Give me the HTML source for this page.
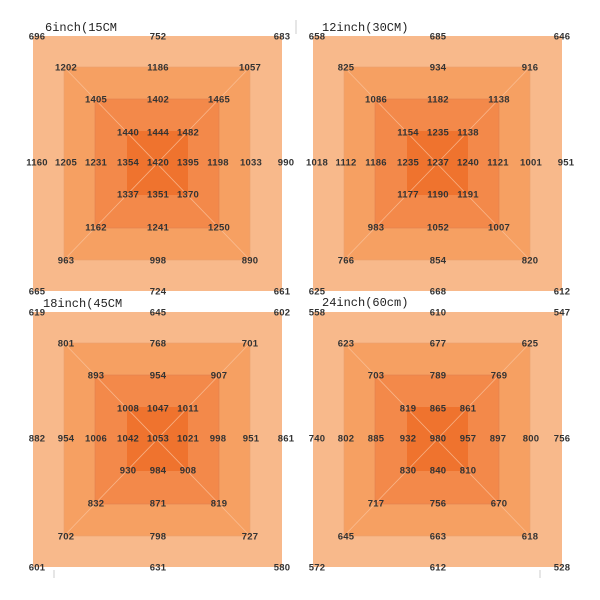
<!DOCTYPE html>
<html><head><meta charset="utf-8"><style>
body{margin:0;background:#fff}
svg{display:block}
text{font-family:"Liberation Sans",sans-serif;font-size:9.5px;fill:#333;text-anchor:middle;dominant-baseline:middle;font-weight:bold;letter-spacing:0.2px}
text.t{font-family:"Liberation Mono",monospace;font-size:12px;text-anchor:start;font-weight:normal;fill:#222;letter-spacing:0}
</style></head><body>
<svg width="600" height="600" viewBox="0 0 600 600" xmlns="http://www.w3.org/2000/svg">
<defs>
<g id="sq">
<rect x="33" y="36" width="249" height="255" fill="#f8b98b"/>
<rect x="64" y="67" width="186" height="193" fill="#f6a062" stroke="#e9a070" stroke-width="0.6"/>
<rect x="95" y="99" width="124" height="129" fill="#f3894a" stroke="#e08050" stroke-width="0.6"/>
<rect x="127" y="131" width="61" height="64" fill="#ef732e"/>
<line x1="64" y1="67" x2="250" y2="260" stroke="#fbc9a6" stroke-width="0.8" opacity="0.7"/>
<line x1="250" y1="67" x2="64" y2="260" stroke="#fbc9a6" stroke-width="0.8" opacity="0.7"/>
</g>
</defs>
<line x1="296" y1="20" x2="296" y2="34" stroke="#ccc"/>
<line x1="54" y1="570" x2="54" y2="578" stroke="#ccc"/>
<line x1="540" y1="570" x2="540" y2="578" stroke="#ccc"/>

<g>
<use href="#sq"/>
<text class="t" x="45" y="28">6inch(15CM</text>
<text x="37" y="37">696</text><text x="158" y="37">752</text><text x="282" y="37">683</text>
<text x="66" y="68">1202</text><text x="158" y="68">1186</text><text x="250" y="68">1057</text>
<text x="96" y="100">1405</text><text x="158" y="100">1402</text><text x="219" y="100">1465</text>
<text x="128" y="133">1440</text><text x="158" y="133">1444</text><text x="188" y="133">1482</text>
<text x="37" y="163">1160</text><text x="66" y="163">1205</text><text x="96" y="163">1231</text><text x="128" y="163">1354</text><text x="158" y="163">1420</text><text x="188" y="163">1395</text><text x="218" y="163">1198</text><text x="251" y="163">1033</text><text x="286" y="163">990</text>
<text x="128" y="195">1337</text><text x="158" y="195">1351</text><text x="188" y="195">1370</text>
<text x="96" y="228">1162</text><text x="158" y="228">1241</text><text x="219" y="228">1250</text>
<text x="66" y="261">963</text><text x="158" y="261">998</text><text x="250" y="261">890</text>
<text x="37" y="292">665</text><text x="158" y="292">724</text><text x="282" y="292">661</text>
</g>

<g transform="translate(280,0)">
<use href="#sq"/>
<text class="t" x="42" y="28">12inch(30CM)</text>
<text x="37" y="37">658</text><text x="158" y="37">685</text><text x="282" y="37">646</text>
<text x="66" y="68">825</text><text x="158" y="68">934</text><text x="250" y="68">916</text>
<text x="96" y="100">1086</text><text x="158" y="100">1182</text><text x="219" y="100">1138</text>
<text x="128" y="133">1154</text><text x="158" y="133">1235</text><text x="188" y="133">1138</text>
<text x="37" y="163">1018</text><text x="66" y="163">1112</text><text x="96" y="163">1186</text><text x="128" y="163">1235</text><text x="158" y="163">1237</text><text x="188" y="163">1240</text><text x="218" y="163">1121</text><text x="251" y="163">1001</text><text x="286" y="163">951</text>
<text x="128" y="195">1177</text><text x="158" y="195">1190</text><text x="188" y="195">1191</text>
<text x="96" y="228">983</text><text x="158" y="228">1052</text><text x="219" y="228">1007</text>
<text x="66" y="261">766</text><text x="158" y="261">854</text><text x="250" y="261">820</text>
<text x="37" y="292">625</text><text x="158" y="292">668</text><text x="282" y="292">612</text>
</g>

<g transform="translate(0,276)">
<use href="#sq"/>
<text class="t" x="43" y="28">18inch(45CM</text>
<text x="37" y="37">619</text><text x="158" y="37">645</text><text x="282" y="37">602</text>
<text x="66" y="68">801</text><text x="158" y="68">768</text><text x="250" y="68">701</text>
<text x="96" y="100">893</text><text x="158" y="100">954</text><text x="219" y="100">907</text>
<text x="128" y="133">1008</text><text x="158" y="133">1047</text><text x="188" y="133">1011</text>
<text x="37" y="163">882</text><text x="66" y="163">954</text><text x="96" y="163">1006</text><text x="128" y="163">1042</text><text x="158" y="163">1053</text><text x="188" y="163">1021</text><text x="218" y="163">998</text><text x="251" y="163">951</text><text x="286" y="163">861</text>
<text x="128" y="195">930</text><text x="158" y="195">984</text><text x="188" y="195">908</text>
<text x="96" y="228">832</text><text x="158" y="228">871</text><text x="219" y="228">819</text>
<text x="66" y="261">702</text><text x="158" y="261">798</text><text x="250" y="261">727</text>
<text x="37" y="292">601</text><text x="158" y="292">631</text><text x="282" y="292">580</text>
</g>

<g transform="translate(280,276)">
<use href="#sq"/>
<text class="t" x="42" y="27">24inch(60cm)</text>
<text x="37" y="37">558</text><text x="158" y="37">610</text><text x="282" y="37">547</text>
<text x="66" y="68">623</text><text x="158" y="68">677</text><text x="250" y="68">625</text>
<text x="96" y="100">703</text><text x="158" y="100">789</text><text x="219" y="100">769</text>
<text x="128" y="133">819</text><text x="158" y="133">865</text><text x="188" y="133">861</text>
<text x="37" y="163">740</text><text x="66" y="163">802</text><text x="96" y="163">885</text><text x="128" y="163">932</text><text x="158" y="163">980</text><text x="188" y="163">957</text><text x="218" y="163">897</text><text x="251" y="163">800</text><text x="282" y="163">756</text>
<text x="128" y="195">830</text><text x="158" y="195">840</text><text x="188" y="195">810</text>
<text x="96" y="228">717</text><text x="158" y="228">756</text><text x="219" y="228">670</text>
<text x="66" y="261">645</text><text x="158" y="261">663</text><text x="250" y="261">618</text>
<text x="37" y="292">572</text><text x="158" y="292">612</text><text x="282" y="292">528</text>
</g>
</svg>
</body></html>
